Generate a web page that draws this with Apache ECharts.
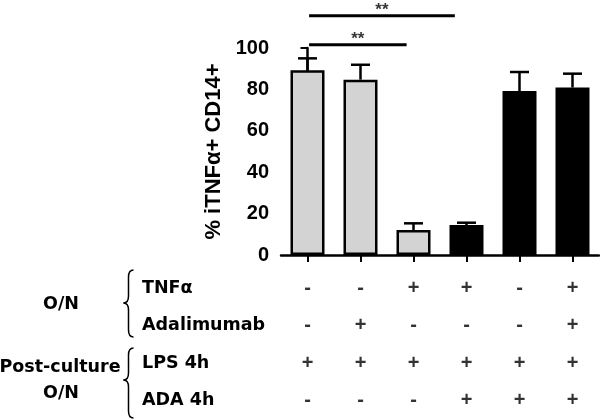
<!DOCTYPE html>
<html>
<head>
<meta charset="utf-8">
<script src="https://cdn.jsdelivr.net/npm/echarts@6/dist/echarts.min.js"></script>
<style>html,body{margin:0;padding:0;background:#fff;}#c{width:600px;height:419px;}</style>
</head>
<body>
<div id="c"></div>
<script>
var categories = ['c1','c2','c3','c4','c5','c6'];
var means = [89.2, 84.7, 12.1, 14.5, 79.2, 80.9];
var errTops = [95.0, 91.9, 15.3, 15.6, 88.4, 87.6];
var barColors = ['#d3d3d3','#d3d3d3','#d3d3d3','#000000','#000000','#000000'];
var sigBars = [
  {from: 0.03, to: 2.78, y: 115.6, text: '**'},
  {from: 0.03, to: 1.87, y: 101.6, text: '**'}
];
var rowLabels = ['TNFα', 'Adalimumab', 'LPS 4h', 'ADA 4h'];
var rowTNF = ['-','-','+','+','-','+'];
var rowAdalimumab = ['-','+','-','-','-','+'];
var rowLPS = ['+','+','+','+','+','+'];
var rowADA = ['-','-','-','+','+','+'];
var tableRows = [rowTNF, rowAdalimumab, rowLPS, rowADA];
var groupLabels = [
  {text: 'O/N', x: 61, y: 304},
  {text: 'Post-culture', x: 60, y: 367},
  {text: 'O/N', x: 61, y: 393}
];

var FONT = '"Liberation Sans", Arial, Helvetica, sans-serif';
var WIDE = '"DejaVu Sans", Verdana, sans-serif';
var chart = echarts.init(document.getElementById('c'));

var tableData = [];
tableRows.forEach(function (row, r) {
  row.forEach(function (s, c) { tableData.push([c, r, s]); });
});

function brace(x, yTop, yMid, yBot) {
  var st = {stroke: '#000', lineWidth: 1.5, fill: null};
  var w = 5, tip = 5, r = 7;
  return {
    type: 'group', children: [
      {type: 'bezierCurve', shape: {x1: x + w, y1: yTop, cpx1: x, cpy1: yTop, x2: x, y2: yTop + r}, style: st},
      {type: 'line', shape: {x1: x, y1: yTop + r, x2: x, y2: yMid - r}, style: st},
      {type: 'bezierCurve', shape: {x1: x, y1: yMid - r, cpx1: x, cpy1: yMid, x2: x - tip, y2: yMid}, style: st},
      {type: 'bezierCurve', shape: {x1: x - tip, y1: yMid, cpx1: x, cpy1: yMid, x2: x, y2: yMid + r}, style: st},
      {type: 'line', shape: {x1: x, y1: yMid + r, x2: x, y2: yBot - r}, style: st},
      {type: 'bezierCurve', shape: {x1: x, y1: yBot - r, cpx1: x, cpy1: yBot, x2: x + w, y2: yBot}, style: st}
    ]
  };
}

var series = [
  {
    type: 'bar', xAxisIndex: 0, yAxisIndex: 0,
    barWidth: 34,
    data: means.map(function (v, i) {
      return {value: v, itemStyle: {color: barColors[i], borderColor: '#000', borderWidth: 2.5}};
    }),
    z: 2
  },
  {
    type: 'custom', xAxisIndex: 0, yAxisIndex: 0,
    data: means.map(function (v, i) { return [i, v, errTops[i]]; }),
    renderItem: function (params, api) {
      var p0 = api.coord([api.value(0), api.value(1)]);
      var p1 = api.coord([api.value(0), api.value(2)]);
      var hw = 9.5;
      return {
        type: 'group',
        children: [
          {type: 'line', shape: {x1: p0[0], y1: p0[1], x2: p1[0], y2: p1[1]}, style: {stroke: '#000', lineWidth: 2.5}},
          {type: 'line', shape: {x1: p1[0] - hw, y1: p1[1], x2: p1[0] + hw, y2: p1[1]}, style: {stroke: '#000', lineWidth: 2.5}}
        ]
      };
    },
    z: 1
  }
];

sigBars.forEach(function (s) {
  series.push({
    type: 'line', xAxisIndex: 1, yAxisIndex: 0, clip: false,
    symbol: 'none', silent: true,
    lineStyle: {color: '#000', width: 3},
    data: [[s.from, s.y], [s.to, s.y]]
  });
  series.push({
    type: 'scatter', xAxisIndex: 1, yAxisIndex: 0, clip: false,
    symbolSize: 0, silent: true,
    data: [[(s.from + s.to) / 2, s.y]],
    label: {show: true, position: 'top', distance: -3.5, formatter: s.text,
      fontFamily: FONT, fontWeight: 'bold', fontSize: 17, color: '#000'}
  });
});

series.push({
  type: 'scatter', xAxisIndex: 2, yAxisIndex: 1,
  symbolSize: 0, silent: true,
  data: tableData,
  label: {show: true, position: 'inside', formatter: function (p) { return p.value[2]; },
    fontFamily: FONT, fontWeight: 'bold', fontSize: 20, color: '#000'}
});

var graphics = groupLabels.map(function (g) {
  return {type: 'text', x: g.x, y: g.y, style: {text: g.text, font: 'bold 17.5px ' + WIDE, fill: '#000', align: 'center', verticalAlign: 'middle'}};
});
graphics.push(brace(128.5, 270, 303, 337));
graphics.push(brace(128.5, 348, 380, 418));

chart.setOption({
  animation: false,
  backgroundColor: '#fff',
  grid: [
    {left: 281, right: 1, top: 48, height: 207},
    {left: 281, right: 1, top: 270, height: 152}
  ],
  xAxis: [
    {type: 'category', gridIndex: 0, data: categories,
      axisLine: {lineStyle: {color: '#000', width: 2.5}},
      axisTick: {show: true, alignWithLabel: true, length: 7, lineStyle: {color: '#000', width: 2}},
      axisLabel: {show: false}},
    {type: 'value', gridIndex: 0, min: -0.5, max: 5.5, show: false},
    {type: 'category', gridIndex: 1, data: categories, show: false}
  ],
  yAxis: [
    {type: 'value', gridIndex: 0, min: 0, max: 100, interval: 20,
      name: '% iTNFα+ CD14+', nameLocation: 'middle', nameGap: 54,
      nameTextStyle: {fontFamily: FONT, fontWeight: 'bold', fontSize: 22, color: '#000'},
      axisLine: {show: true, lineStyle: {color: '#000', width: 2.5}},
      axisTick: {show: true, length: 7, lineStyle: {color: '#000', width: 2}},
      axisLabel: {margin: 12, fontFamily: FONT, fontWeight: 'bold', fontSize: 20, color: '#000'},
      splitLine: {show: false}},
    {type: 'category', gridIndex: 1, data: rowLabels, inverse: true,
      axisLine: {show: false}, axisTick: {show: false},
      axisLabel: {align: 'left', margin: 139, fontFamily: WIDE, fontWeight: 'bold', fontSize: 17.5, color: '#000'}}
  ],
  graphic: graphics,
  series: series
});
</script>
</body>
</html>
